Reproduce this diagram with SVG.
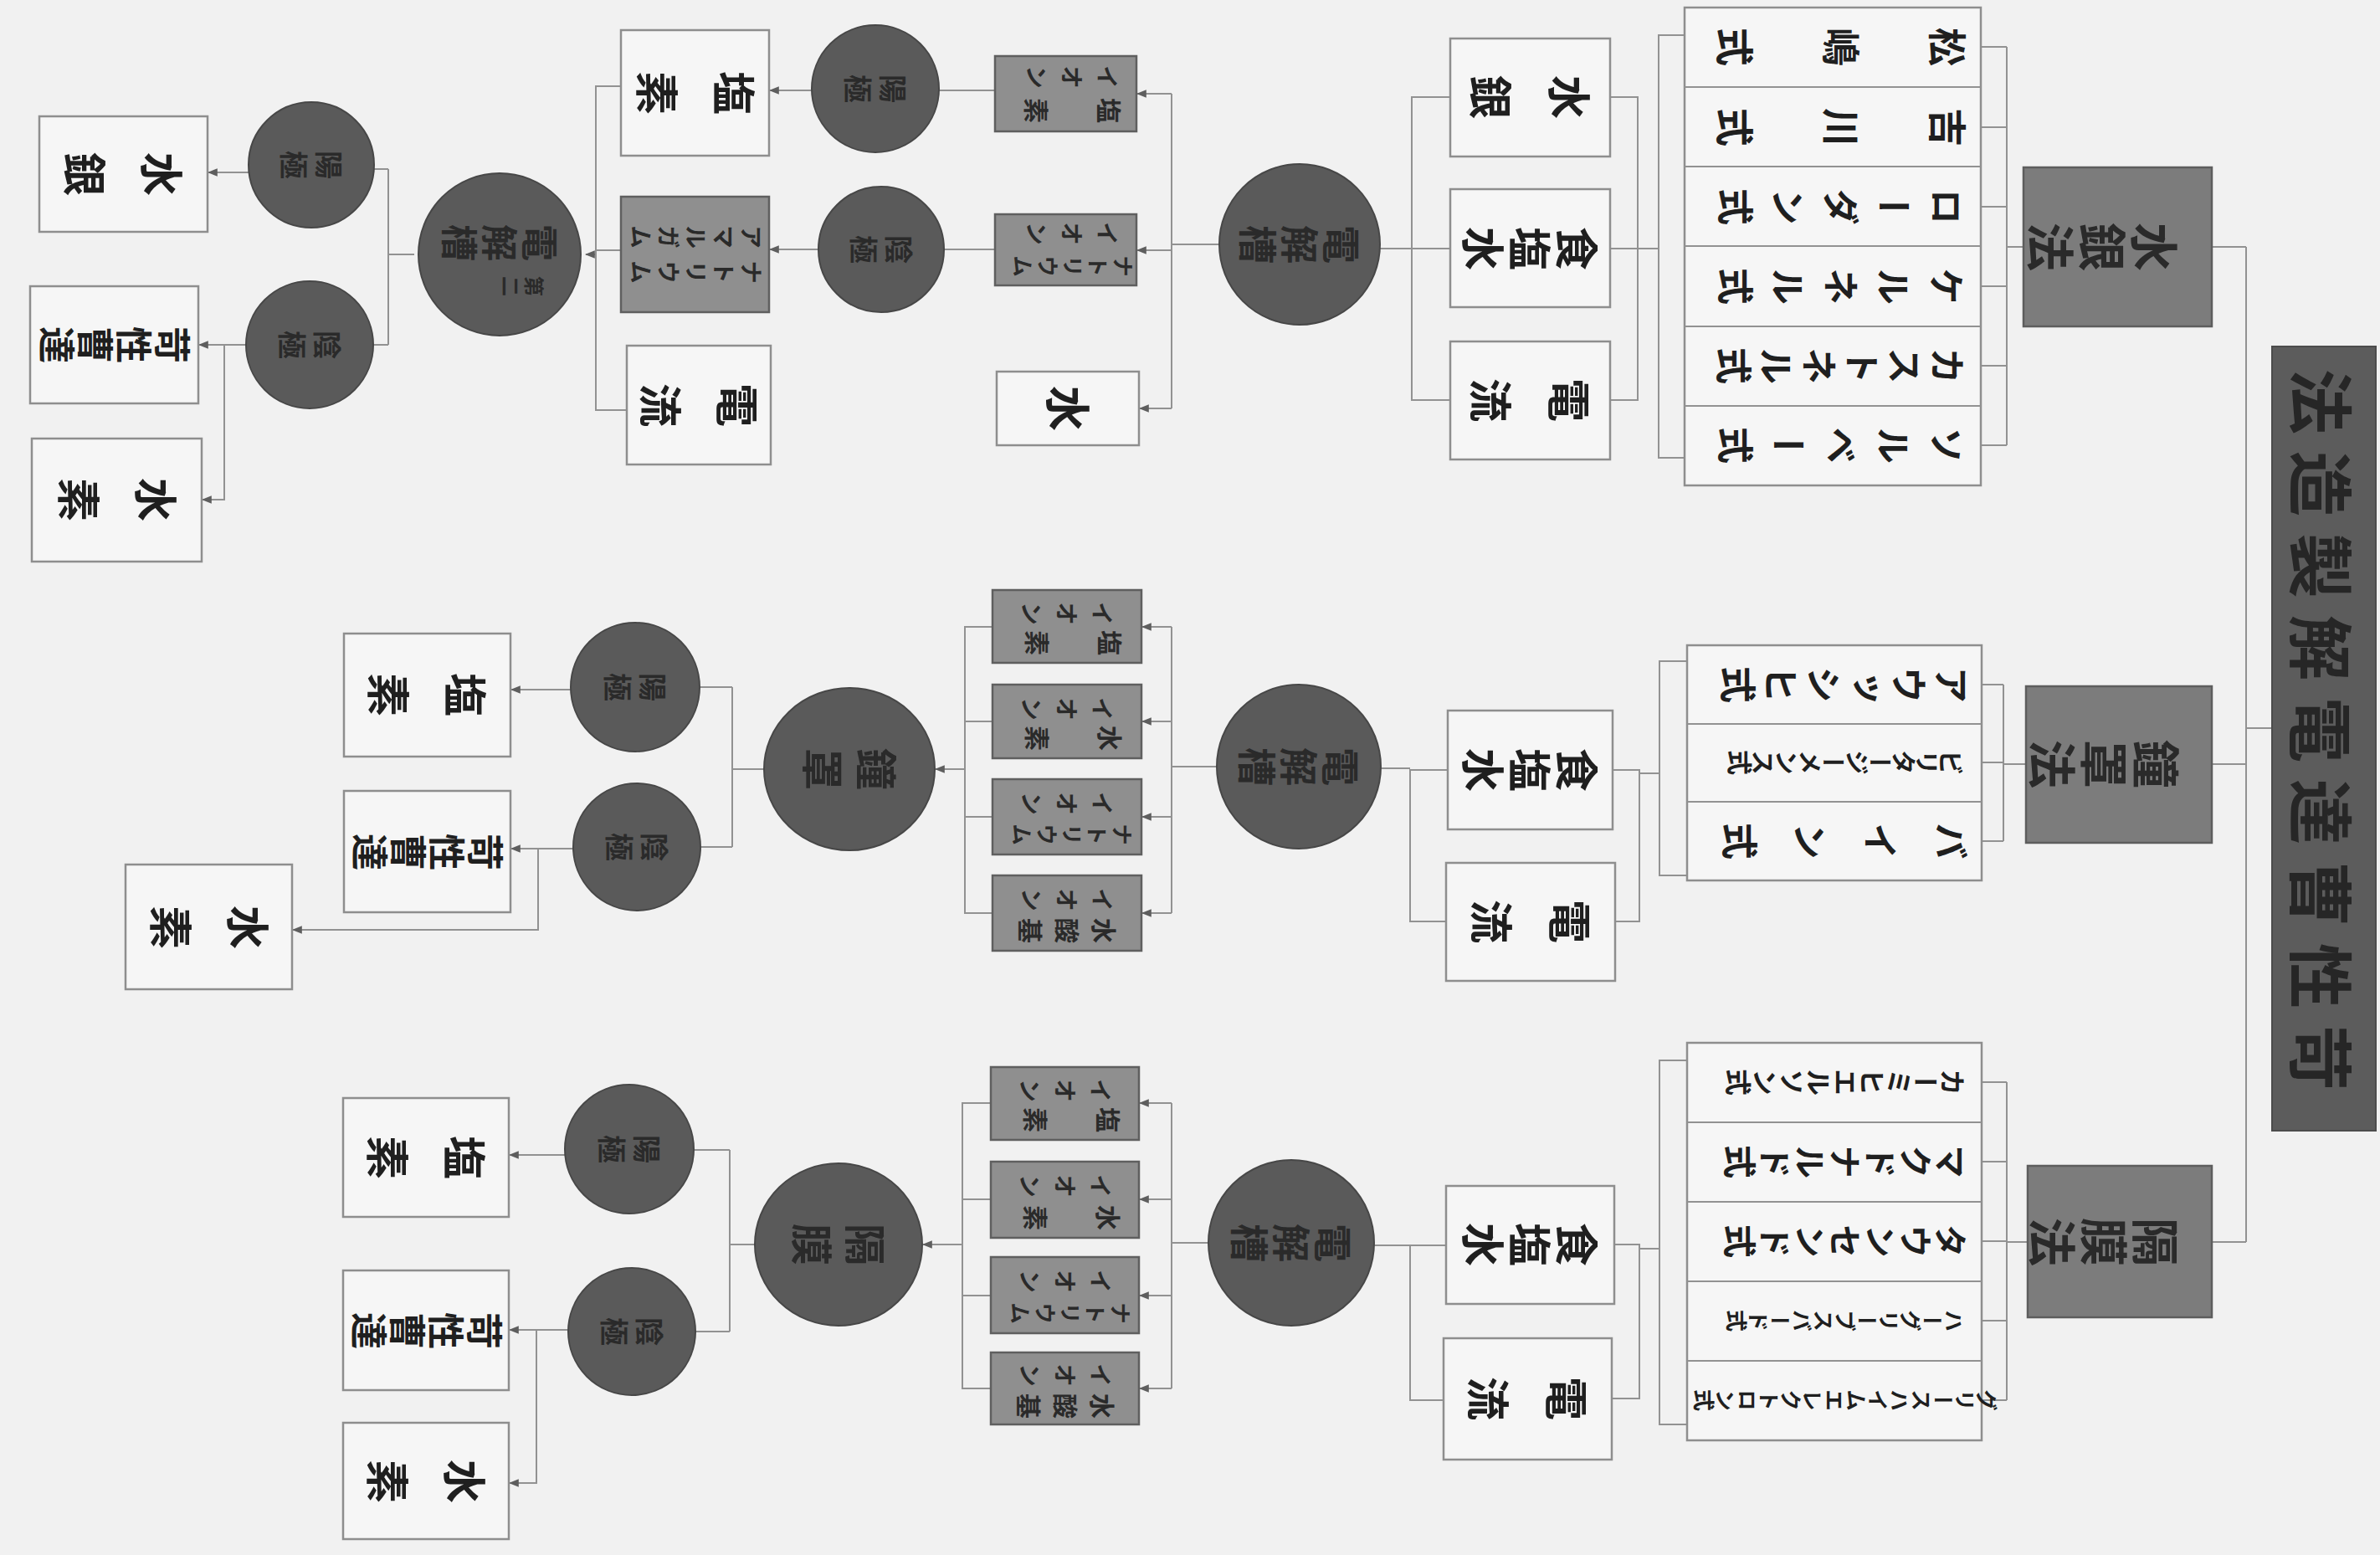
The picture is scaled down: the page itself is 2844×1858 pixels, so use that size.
<svg xmlns="http://www.w3.org/2000/svg" width="2844" height="1858" viewBox="0 0 2844 1858">
<defs>
<style>
.bg{fill:#f1f1f1}
.wb{fill:#f6f6f6;stroke:#8e8e8e;stroke-width:2.5}
.sb{fill:#8f8f8f;stroke:#5f5f5f;stroke-width:2.5}
.mb{fill:#7c7c7c;stroke:#5d5d5d;stroke-width:2.5}
.tb{fill:#5c5c5c;stroke:#4c4c4c;stroke-width:2}
.ci{fill:#5a5a5a;stroke:#474747;stroke-width:2}
.ln{fill:none;stroke:#929292;stroke-width:2}
.v{font-family:"Noto Sans CJK JP","Noto Sans CJK SC",sans-serif;writing-mode:vertical-rl;text-anchor:middle;fill:#1f1f1f;font-weight:700}
.h{font-family:"Noto Sans CJK JP","Noto Sans CJK SC",sans-serif;text-anchor:middle;dominant-baseline:central;fill:#262626;font-weight:700}
.dk{fill:#2a2a2a}
</style>
<marker id="ah" viewBox="0 0 10 10" refX="9" refY="5" markerWidth="12" markerHeight="12" markerUnits="userSpaceOnUse" orient="auto">
<path d="M0,1 L10,5 L0,9 z" fill="#5e5e5e"/>
</marker>
</defs>
<rect class="bg" x="0" y="0" width="2844" height="1858"/>

<g id="connectors">
<path class="ln" d="M2684 295 V1484 M2643 295 H2684 M2643 913 H2684 M2643 1484 H2684 M2684 870 H2715"/>
<path class="ln" d="M2398 56 V532 M2367 56 H2398 M2367 152 H2398 M2367 247 H2398 M2367 342 H2398 M2367 437 H2398 M2367 532 H2398 M2418 295 H2398"/>
<path class="ln" d="M2013 42 H1982 V547 H2013 M1982 297 H1957"/>
<path class="ln" d="M1924 116 H1957 V478 H1924 M1924 297 H1957"/>
<path class="ln" d="M1733 116 H1687 V478 H1733 M1733 297 H1687 M1687 297 H1649"/>
<path class="ln" d="M1457 292 H1400 M1400 112 V488"/>
<path class="ln" marker-end="url(#ah)" d="M1400 112 H1359"/>
<path class="ln" marker-end="url(#ah)" d="M1400 299 H1359"/>
<path class="ln" marker-end="url(#ah)" d="M1400 488 H1362"/>
<path class="ln" d="M1189 108 H1122"/>
<path class="ln" marker-end="url(#ah)" d="M970 108 H920"/>
<path class="ln" d="M1189 298 H1128"/>
<path class="ln" marker-end="url(#ah)" d="M978 298 H920"/>
<path class="ln" d="M742 103 H712 V490 H749 M742 299 H712"/>
<path class="ln" marker-end="url(#ah)" d="M712 304 H700"/>
<path class="ln" d="M495 304 H464 M464 202 V412 M464 202 H447 M464 412 H446"/>
<path class="ln" marker-end="url(#ah)" d="M297 206 H249"/>
<path class="ln" marker-end="url(#ah)" d="M294 412 H238"/>
<path class="ln" marker-end="url(#ah)" d="M268 412 V597 H242"/>
<path class="ln" d="M2394 818 V1005 M2368 818 H2394 M2368 911 H2394 M2368 1005 H2394 M2421 913 H2394"/>
<path class="ln" d="M2016 790 H1983 V1046 H2016 M1983 924 H1959"/>
<path class="ln" d="M1927 920 H1959 V1101 H1930"/>
<path class="ln" d="M1730 920 H1685 V1101 H1728 M1685 918 H1650"/>
<path class="ln" d="M1454 916 H1400 M1400 749 V1091"/>
<path class="ln" marker-end="url(#ah)" d="M1400 749 H1365"/>
<path class="ln" marker-end="url(#ah)" d="M1400 862 H1365"/>
<path class="ln" marker-end="url(#ah)" d="M1400 976 H1365"/>
<path class="ln" marker-end="url(#ah)" d="M1400 1091 H1365"/>
<path class="ln" d="M1186 749 H1153 V1091 H1186 M1186 862 H1153 M1186 976 H1153"/>
<path class="ln" marker-end="url(#ah)" d="M1153 919 H1118"/>
<path class="ln" d="M913 919 H875 M875 821 V1012 M875 821 H836 M875 1012 H837"/>
<path class="ln" marker-end="url(#ah)" d="M682 824 H611"/>
<path class="ln" marker-end="url(#ah)" d="M685 1014 H611"/>
<path class="ln" marker-end="url(#ah)" d="M643 1014 V1111 H350"/>
<path class="ln" d="M2398 1293 V1673 M2368 1293 H2398 M2368 1388 H2398 M2368 1483 H2398 M2368 1578 H2398 M2368 1673 H2398 M2423 1484 H2398"/>
<path class="ln" d="M2016 1267 H1983 V1702 H2016 M1983 1492 H1959"/>
<path class="ln" d="M1929 1487 H1959 V1671 H1926"/>
<path class="ln" d="M1728 1488 H1685 V1673 H1725 M1685 1488 H1642"/>
<path class="ln" d="M1444 1485 H1400 M1400 1318 V1659"/>
<path class="ln" marker-end="url(#ah)" d="M1400 1318 H1362"/>
<path class="ln" marker-end="url(#ah)" d="M1400 1433 H1362"/>
<path class="ln" marker-end="url(#ah)" d="M1400 1548 H1362"/>
<path class="ln" marker-end="url(#ah)" d="M1400 1659 H1362"/>
<path class="ln" d="M1184 1318 H1150 V1659 H1184 M1184 1433 H1150 M1184 1548 H1150"/>
<path class="ln" marker-end="url(#ah)" d="M1150 1487 H1103"/>
<path class="ln" d="M902 1487 H872 M872 1374 V1591 M872 1374 H829 M872 1591 H831"/>
<path class="ln" marker-end="url(#ah)" d="M675 1380 H609"/>
<path class="ln" marker-end="url(#ah)" d="M679 1589 H609"/>
<path class="ln" marker-end="url(#ah)" d="M641 1589 V1772 H609"/>
</g>

<g id="title">
<rect class="tb" x="2715" y="414" width="124" height="937"/>
<text class="h" transform="translate(2777,882) rotate(90)" style="font-size:78px;letter-spacing:20px;direction:rtl;unicode-bidi:bidi-override">苛性曹達電解製造法</text>
</g>

<g id="m-suigin"><rect class="mb" x="2418" y="200" width="225" height="190"/><text class="v dk" transform="translate(2510,295) rotate(90)" style="font-size:58px;letter-spacing:4px">水銀法</text></g>
<g id="m-shoto"><rect class="mb" x="2421" y="820" width="222" height="187"/><text class="v dk" transform="translate(2512,913) rotate(90)" style="font-size:58px;letter-spacing:4px">鐘罩法</text></g>
<g id="m-kakumaku"><rect class="mb" x="2423" y="1393" width="220" height="181"/><text class="v dk" transform="translate(2512,1484) rotate(90)" style="font-size:58px;letter-spacing:4px">隔膜法</text></g>

<g id="list-suigin">
<rect class="wb" x="2013" y="9" width="354" height="571"/>
<path class="ln" d="M2013 104 H2367 M2013 199 H2367 M2013 294 H2367 M2013 390 H2367 M2013 485 H2367"/>
<text class="v" transform="translate(2160,56) rotate(90)" style="font-size:46px;letter-spacing:81px">松嶋式</text>
<text class="v" transform="translate(2160,152) rotate(90)" style="font-size:46px;letter-spacing:81px">吉川式</text>
<text class="v" transform="translate(2190,247) rotate(90)" style="font-size:44px;letter-spacing:19px">ローダン式</text>
<text class="v" transform="translate(2190,342) rotate(90)" style="font-size:44px;letter-spacing:19px">ケルネル式</text>
<text class="v" transform="translate(2196,437) rotate(90)" style="font-size:44px;letter-spacing:7px">カストネル式</text>
<text class="v" transform="translate(2190,532) rotate(90)" style="font-size:44px;letter-spacing:19px">ソルベー式</text>
</g>

<g id="list-shoto">
<rect class="wb" x="2016" y="771" width="352" height="281"/>
<path class="ln" d="M2016 865 H2368 M2016 958 H2368"/>
<text class="v" transform="translate(2201,818) rotate(90)" style="font-size:44px;letter-spacing:7px">アウッシヒ式</text>
<text class="v" transform="translate(2206,911) rotate(90)" style="font-size:30px;letter-spacing:-2px">ビリタージーメンス式</text>
<text class="v" transform="translate(2185,1005) rotate(90)" style="font-size:44px;letter-spacing:40px">バイン式</text>
</g>

<g id="list-kakumaku">
<rect class="wb" x="2016" y="1246" width="352" height="475"/>
<path class="ln" d="M2016 1341 H2368 M2016 1436 H2368 M2016 1531 H2368 M2016 1626 H2368"/>
<text class="v" transform="translate(2205,1293) rotate(90)" style="font-size:32px">カーミヒエルソン式</text>
<text class="v" transform="translate(2204,1388) rotate(90)" style="font-size:40px;letter-spacing:2px">マクドナルド式</text>
<text class="v" transform="translate(2204,1483) rotate(90)" style="font-size:40px;letter-spacing:2px">タウンセンド式</text>
<text class="v" transform="translate(2205,1578) rotate(90)" style="font-size:26px">ハーグリーブスバード式</text>
<text class="v" transform="translate(2205,1673) rotate(90)" style="font-size:26px">グリースハイムエレクトロン式</text>
</g>

<g id="in-1a"><rect class="wb" x="1733" y="46" width="191" height="141"/><text class="v" transform="translate(1807,116) rotate(90)" style="font-size:52px;letter-spacing:42px">水銀</text></g>
<g id="in-1b"><rect class="wb" x="1733" y="226" width="191" height="141"/><text class="v" transform="translate(1826,297) rotate(90)" style="font-size:52px;letter-spacing:4px">食塩水</text></g>
<g id="in-1c"><rect class="wb" x="1733" y="408" width="191" height="141"/><text class="v" transform="translate(1807,478) rotate(90)" style="font-size:52px;letter-spacing:42px">電流</text></g>
<g id="in-2a"><rect class="wb" x="1730" y="849" width="197" height="142"/><text class="v" transform="translate(1826,920) rotate(90)" style="font-size:52px;letter-spacing:4px">食塩水</text></g>
<g id="in-2b"><rect class="wb" x="1728" y="1031" width="202" height="141"/><text class="v" transform="translate(1808,1101) rotate(90)" style="font-size:52px;letter-spacing:42px">電流</text></g>
<g id="in-3a"><rect class="wb" x="1728" y="1417" width="201" height="141"/><text class="v" transform="translate(1826,1487) rotate(90)" style="font-size:52px;letter-spacing:4px">食塩水</text></g>
<g id="in-3b"><rect class="wb" x="1725" y="1599" width="201" height="145"/><text class="v" transform="translate(1804,1671) rotate(90)" style="font-size:52px;letter-spacing:42px">電流</text></g>

<g id="cell-1"><circle class="ci" cx="1553" cy="292" r="96"/><text class="v dk" transform="translate(1551,292) rotate(90)" style="font-size:46px;letter-spacing:4px">電解槽</text></g>
<g id="cell-2"><circle class="ci" cx="1552" cy="916" r="98"/><text class="v dk" transform="translate(1550,916) rotate(90)" style="font-size:46px;letter-spacing:4px">電解槽</text></g>
<g id="cell-3"><circle class="ci" cx="1543" cy="1485" r="99"/><text class="v dk" transform="translate(1541,1485) rotate(90)" style="font-size:46px;letter-spacing:4px">電解槽</text></g>

<g id="ion-1a"><rect class="sb" x="1189" y="67" width="169" height="90"/><text class="v dk" transform="translate(1274,92) rotate(90)" style="font-size:28px;letter-spacing:14px">イオン</text><text class="v dk" transform="translate(1253,132) rotate(90)" style="font-size:30px;letter-spacing:57px">塩素</text></g>
<g id="ion-1b"><rect class="sb" x="1189" y="256" width="169" height="85"/><text class="v dk" transform="translate(1274,279) rotate(90)" style="font-size:28px;letter-spacing:14px">イオン</text><text class="v dk" transform="translate(1280,318) rotate(90)" style="font-size:26px;letter-spacing:4px">ナトリウム</text></g>
<g id="water-1"><rect class="wb" x="1191" y="444" width="170" height="88"/><text class="v" transform="translate(1276,488) rotate(90)" style="font-size:54px">水</text></g>
<g id="anode-1"><circle class="ci" cx="1046" cy="106" r="76"/><text class="v dk" transform="translate(1042,106) rotate(90)" style="font-size:34px;letter-spacing:8px">陽極</text></g>
<g id="cathode-1"><circle class="ci" cx="1053" cy="298" r="75"/><text class="v dk" transform="translate(1049,298) rotate(90)" style="font-size:34px;letter-spacing:8px">陰極</text></g>
<g id="cl-1"><rect class="wb" x="742" y="36" width="177" height="150"/><text class="v" transform="translate(811,111) rotate(90)" style="font-size:52px;letter-spacing:40px">塩素</text></g>
<g id="amalgam"><rect class="sb" x="742" y="235" width="177" height="138"/><text class="v dk" transform="translate(829,283) rotate(90)" style="font-size:28px;letter-spacing:5px">アマルガム</text><text class="v dk" transform="translate(829,325) rotate(90)" style="font-size:28px;letter-spacing:5px">ナトリウム</text></g>
<g id="cur-1"><rect class="wb" x="749" y="413" width="172" height="142"/><text class="v" transform="translate(815,484) rotate(90)" style="font-size:52px;letter-spacing:40px">電流</text></g>
<g id="cell-2nd"><circle class="ci" cx="597" cy="304" r="97"/><text class="v dk" transform="translate(595,290) rotate(90)" style="font-size:44px;letter-spacing:4px">電解槽</text><text class="v dk" transform="translate(622,342) rotate(90)" style="font-size:24px;letter-spacing:4px">第二</text></g>
<g id="anode-1b"><circle class="ci" cx="372" cy="197" r="75"/><text class="v dk" transform="translate(368,197) rotate(90)" style="font-size:34px;letter-spacing:8px">陽極</text></g>
<g id="cathode-1b"><circle class="ci" cx="370" cy="412" r="76"/><text class="v dk" transform="translate(366,412) rotate(90)" style="font-size:34px;letter-spacing:8px">陰極</text></g>
<g id="hg-out"><rect class="wb" x="47" y="139" width="201" height="138"/><text class="v" transform="translate(127,208) rotate(90)" style="font-size:52px;letter-spacing:40px">水銀</text></g>
<g id="naoh-1"><rect class="wb" x="36" y="342" width="201" height="140"/><text class="v" transform="translate(136,412) rotate(90)" style="font-size:44px;letter-spacing:2px">苛性曹達</text></g>
<g id="h2-1"><rect class="wb" x="38" y="524" width="203" height="147"/><text class="v" transform="translate(120,597) rotate(90)" style="font-size:52px;letter-spacing:40px">水素</text></g>

<g id="ion-2a"><rect class="sb" x="1186" y="705" width="178" height="87"/><text class="v dk" transform="translate(1268,733) rotate(90)" style="font-size:28px;letter-spacing:14px">イオン</text><text class="v dk" transform="translate(1254,768) rotate(90)" style="font-size:30px;letter-spacing:57px">塩素</text></g>
<g id="ion-2b"><rect class="sb" x="1186" y="818" width="178" height="88"/><text class="v dk" transform="translate(1268,847) rotate(90)" style="font-size:28px;letter-spacing:14px">イオン</text><text class="v dk" transform="translate(1254,882) rotate(90)" style="font-size:30px;letter-spacing:57px">水素</text></g>
<g id="ion-2c"><rect class="sb" x="1186" y="931" width="178" height="90"/><text class="v dk" transform="translate(1268,960) rotate(90)" style="font-size:28px;letter-spacing:14px">イオン</text><text class="v dk" transform="translate(1279,997) rotate(90)" style="font-size:26px;letter-spacing:4px">ナトリウム</text></g>
<g id="ion-2d"><rect class="sb" x="1186" y="1046" width="178" height="90"/><text class="v dk" transform="translate(1268,1075) rotate(90)" style="font-size:28px;letter-spacing:14px">イオン</text><text class="v dk" transform="translate(1268,1112) rotate(90)" style="font-size:30px;letter-spacing:14px">水酸基</text></g>
<g id="belljar"><ellipse class="ci" cx="1015" cy="919" rx="102" ry="97"/><text class="v dk" transform="translate(1008,919) rotate(90)" style="font-size:50px;letter-spacing:14px">鐘罩</text></g>
<g id="anode-2"><circle class="ci" cx="759" cy="821" r="77"/><text class="v dk" transform="translate(755,821) rotate(90)" style="font-size:34px;letter-spacing:8px">陽極</text></g>
<g id="cathode-2"><circle class="ci" cx="761" cy="1012" r="76"/><text class="v dk" transform="translate(757,1012) rotate(90)" style="font-size:34px;letter-spacing:8px">陰極</text></g>
<g id="cl-2"><rect class="wb" x="411" y="757" width="199" height="147"/><text class="v" transform="translate(490,830) rotate(90)" style="font-size:52px;letter-spacing:40px">塩素</text></g>
<g id="naoh-2"><rect class="wb" x="411" y="945" width="199" height="145"/><text class="v" transform="translate(510,1018) rotate(90)" style="font-size:44px;letter-spacing:2px">苛性曹達</text></g>
<g id="h2-2"><rect class="wb" x="150" y="1033" width="199" height="149"/><text class="v" transform="translate(230,1108) rotate(90)" style="font-size:52px;letter-spacing:40px">水素</text></g>

<g id="ion-3a"><rect class="sb" x="1184" y="1275" width="177" height="87"/><text class="v dk" transform="translate(1266,1303) rotate(90)" style="font-size:28px;letter-spacing:14px">イオン</text><text class="v dk" transform="translate(1252,1338) rotate(90)" style="font-size:30px;letter-spacing:57px">塩素</text></g>
<g id="ion-3b"><rect class="sb" x="1184" y="1388" width="177" height="91"/><text class="v dk" transform="translate(1266,1417) rotate(90)" style="font-size:28px;letter-spacing:14px">イオン</text><text class="v dk" transform="translate(1252,1455) rotate(90)" style="font-size:30px;letter-spacing:57px">水素</text></g>
<g id="ion-3c"><rect class="sb" x="1184" y="1502" width="177" height="91"/><text class="v dk" transform="translate(1266,1531) rotate(90)" style="font-size:28px;letter-spacing:14px">イオン</text><text class="v dk" transform="translate(1277,1569) rotate(90)" style="font-size:26px;letter-spacing:4px">ナトリウム</text></g>
<g id="ion-3d"><rect class="sb" x="1184" y="1616" width="177" height="86"/><text class="v dk" transform="translate(1266,1643) rotate(90)" style="font-size:28px;letter-spacing:14px">イオン</text><text class="v dk" transform="translate(1266,1680) rotate(90)" style="font-size:30px;letter-spacing:14px">水酸基</text></g>
<g id="diaphragm"><ellipse class="ci" cx="1002" cy="1487" rx="100" ry="97"/><text class="v dk" transform="translate(995,1487) rotate(90)" style="font-size:50px;letter-spacing:14px">隔膜</text></g>
<g id="anode-3"><circle class="ci" cx="752" cy="1373" r="77"/><text class="v dk" transform="translate(748,1373) rotate(90)" style="font-size:34px;letter-spacing:8px">陽極</text></g>
<g id="cathode-3"><circle class="ci" cx="755" cy="1591" r="76"/><text class="v dk" transform="translate(751,1591) rotate(90)" style="font-size:34px;letter-spacing:8px">陰極</text></g>
<g id="cl-3"><rect class="wb" x="410" y="1312" width="198" height="142"/><text class="v" transform="translate(489,1383) rotate(90)" style="font-size:52px;letter-spacing:40px">塩素</text></g>
<g id="naoh-3"><rect class="wb" x="410" y="1518" width="198" height="143"/><text class="v" transform="translate(509,1590) rotate(90)" style="font-size:44px;letter-spacing:2px">苛性曹達</text></g>
<g id="h2-3"><rect class="wb" x="410" y="1700" width="198" height="139"/><text class="v" transform="translate(489,1770) rotate(90)" style="font-size:52px;letter-spacing:40px">水素</text></g>
</svg>
